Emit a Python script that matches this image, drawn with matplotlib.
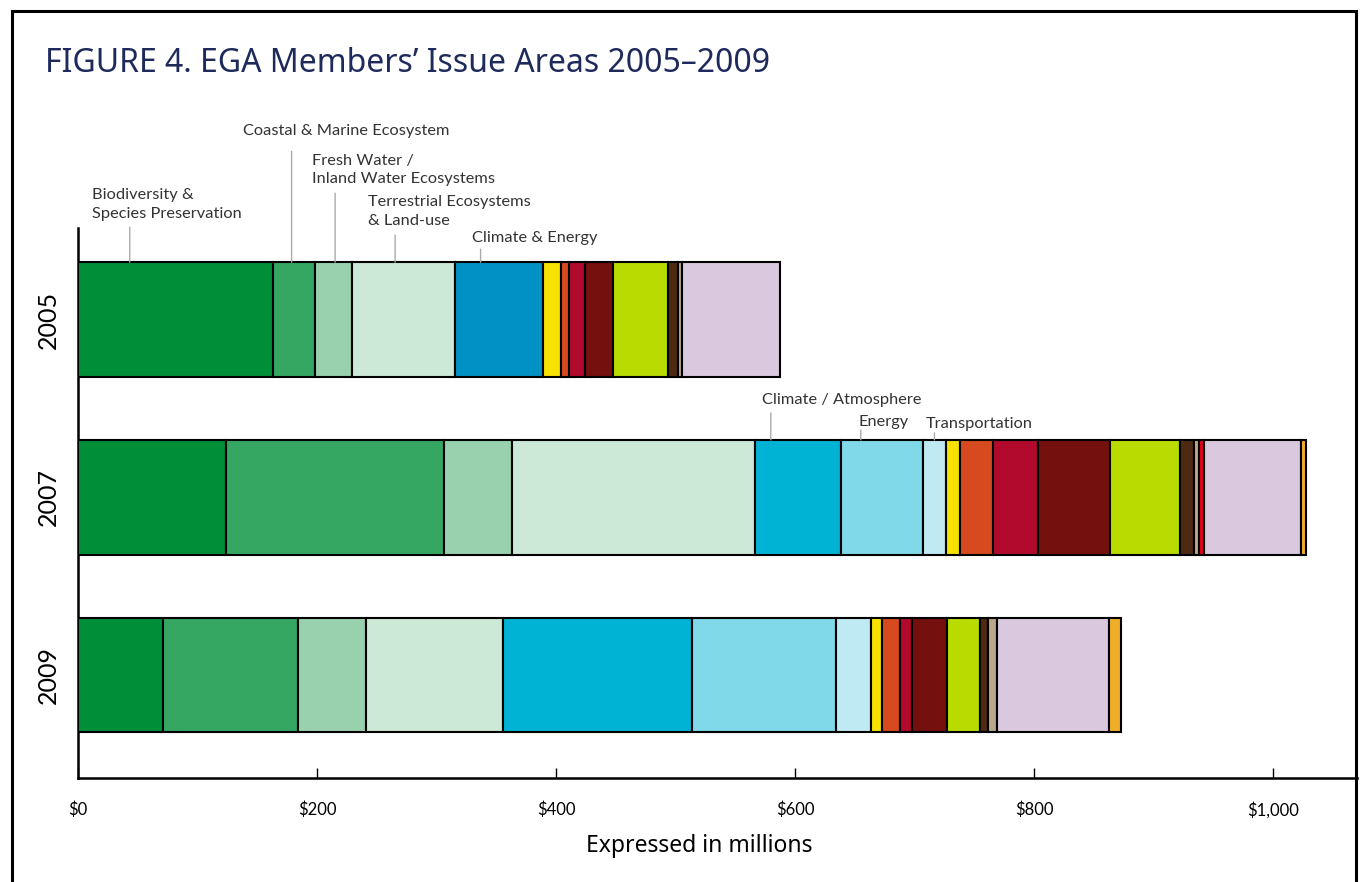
import matplotlib
matplotlib.use("Agg")
from matplotlib import pyplot as plt
from matplotlib.patches import Rectangle

plt.rcParams['font.family'] = ['Lato', 'DejaVu Sans']

# Issue areas, in the order they are stacked from left to right
categories = ["Biodiversity &\nSpecies Preservation", "Coastal & Marine Ecosystem",
              "Fresh Water /\nInland Water Ecosystems", "Terrestrial Ecosystems\n& Land-use",
              "Climate & Energy", "Climate / Atmosphere", "Energy", "Transportation",
              "Other A", "Other B", "Other C", "Other D", "Other E", "Other F",
              "Other G", "Other H", "Other I", "Other J"]
colors = ["#008f39", "#35a763", "#99d1ae", "#cce8d7", "#0092c4", "#00b2d4", "#80d9e9",
          "#c0eaf3", "#f7e100", "#d74a20", "#b10a2c", "#74100d", "#badb00", "#4e2a12",
          "#bba88c", "#e4001b", "#d9c8de", "#f0ad28"]

years = ["2005", "2007", "2009"]
# values in millions of dollars
v2005 = [163.4, 34.7, 31.3, 85.8, 74.2, 0, 0, 0, 14.5, 7.2, 13.1, 23.2, 46.5, 8.4, 2.9, 0, 82.2, 0]
v2007 = [123.7, 182.9, 56.3, 203.5, 0, 72.0, 68.3, 19.3, 11.9, 27.4, 38.1, 60.0, 58.6, 11.7, 4.2, 4.2, 81.1, 4.2]
v2009 = [71.5, 112.4, 56.9, 115.1, 0, 157.6, 120.7, 29.0, 9.7, 14.8, 10.3, 29.0, 27.6, 7.0, 7.0, 0, 93.7, 10.0]
values = [v2005, v2007, v2009]

xticks = [0, 200, 400, 600, 800, 1000]
xticklabels = ["$0", "$200", "$400", "$600", "$800", "$1,000"]

# callouts: category, year row, x where the leader meets the bar, leader length / text offsets (px)
callouts = [(0, 0, 43.3, 35, -37.6, 6.7),
            (1, 0, 178.7, 111, -48.4, 13.7),
            (2, 0, 215.1, 69, -23.2, 7),
            (3, 0, 265.3, 27, -27, 7.7),
            (4, 0, 336.8, 13, -9, 4.6),
            (5, 1, 579.6, 27, -9, 6),
            (6, 1, 654.9, 10, -2.7, 1),
            (7, 1, 716.5, 7, -8.3, 1.7)]

bar_h = 0.645

fig = plt.figure(figsize=(13.6, 8.82), dpi=100)
ax = fig.add_axes([78 / 1360, 1 - 778 / 882, (1357 - 78) / 1360, (778 - 228) / 882])

for row, vals in enumerate(values):
    left = 0
    for i, v in enumerate(vals):
        if v > 0:
            ax.barh(row, v, left=left, height=bar_h, color=colors[i],
                    edgecolor="black", linewidth=1.5, zorder=3)
        left += v

for cat, row, xa, lead, dx, dy in callouts:
    ytop = row - bar_h / 2
    ax.annotate("", xy=(xa, ytop), xytext=(0, lead), textcoords="offset pixels",
                arrowprops=dict(arrowstyle="-", color="#aaaaaa", lw=1,
                                shrinkA=0, shrinkB=0), annotation_clip=False)
    ax.annotate(categories[cat], xy=(xa, ytop), xytext=(dx, lead + dy),
                textcoords="offset pixels", ha="left", va="bottom",
                fontsize=11.8, color="#333333", linespacing=1.4,
                annotation_clip=False)

ax.set_xlim(0, 1070)
ax.set_ylim(2.58, -0.515)
ax.set_xticks(xticks, labels=xticklabels)
ax.set_yticks([0, 1, 2], labels=years, rotation=90, va="center")
ax.tick_params(axis="x", direction="in", length=7, width=1, labelsize=12, pad=17)
ax.tick_params(axis="y", length=0, labelsize=18, pad=13)
for s in ["top", "right"]:
    ax.spines[s].set_visible(False)
ax.spines["left"].set_linewidth(1.8)
ax.spines["bottom"].set_linewidth(1.8)

fig.text(699 / 1360, 1 - 846 / 882, "Expressed in millions", ha="center", va="center",
         fontsize=16.5, family=["Noto Sans", "DejaVu Sans"])
fig.text(45 / 1360, 1 - 63 / 882, "FIGURE 4. EGA Members\u2019 Issue Areas 2005\u20132009",
         ha="left", va="center", fontsize=23, color="#1f2a5c",
         family=["Noto Sans", "DejaVu Sans"])

# outer frame of the figure box
fig.add_artist(Rectangle((12 / 1360, -0.1), (1356 - 12) / 1360, 1.1 - 11 / 882,
                         transform=fig.transFigure, fill=False, lw=2.2,
                         edgecolor="black"))

fig.savefig("out.png", dpi=100)
